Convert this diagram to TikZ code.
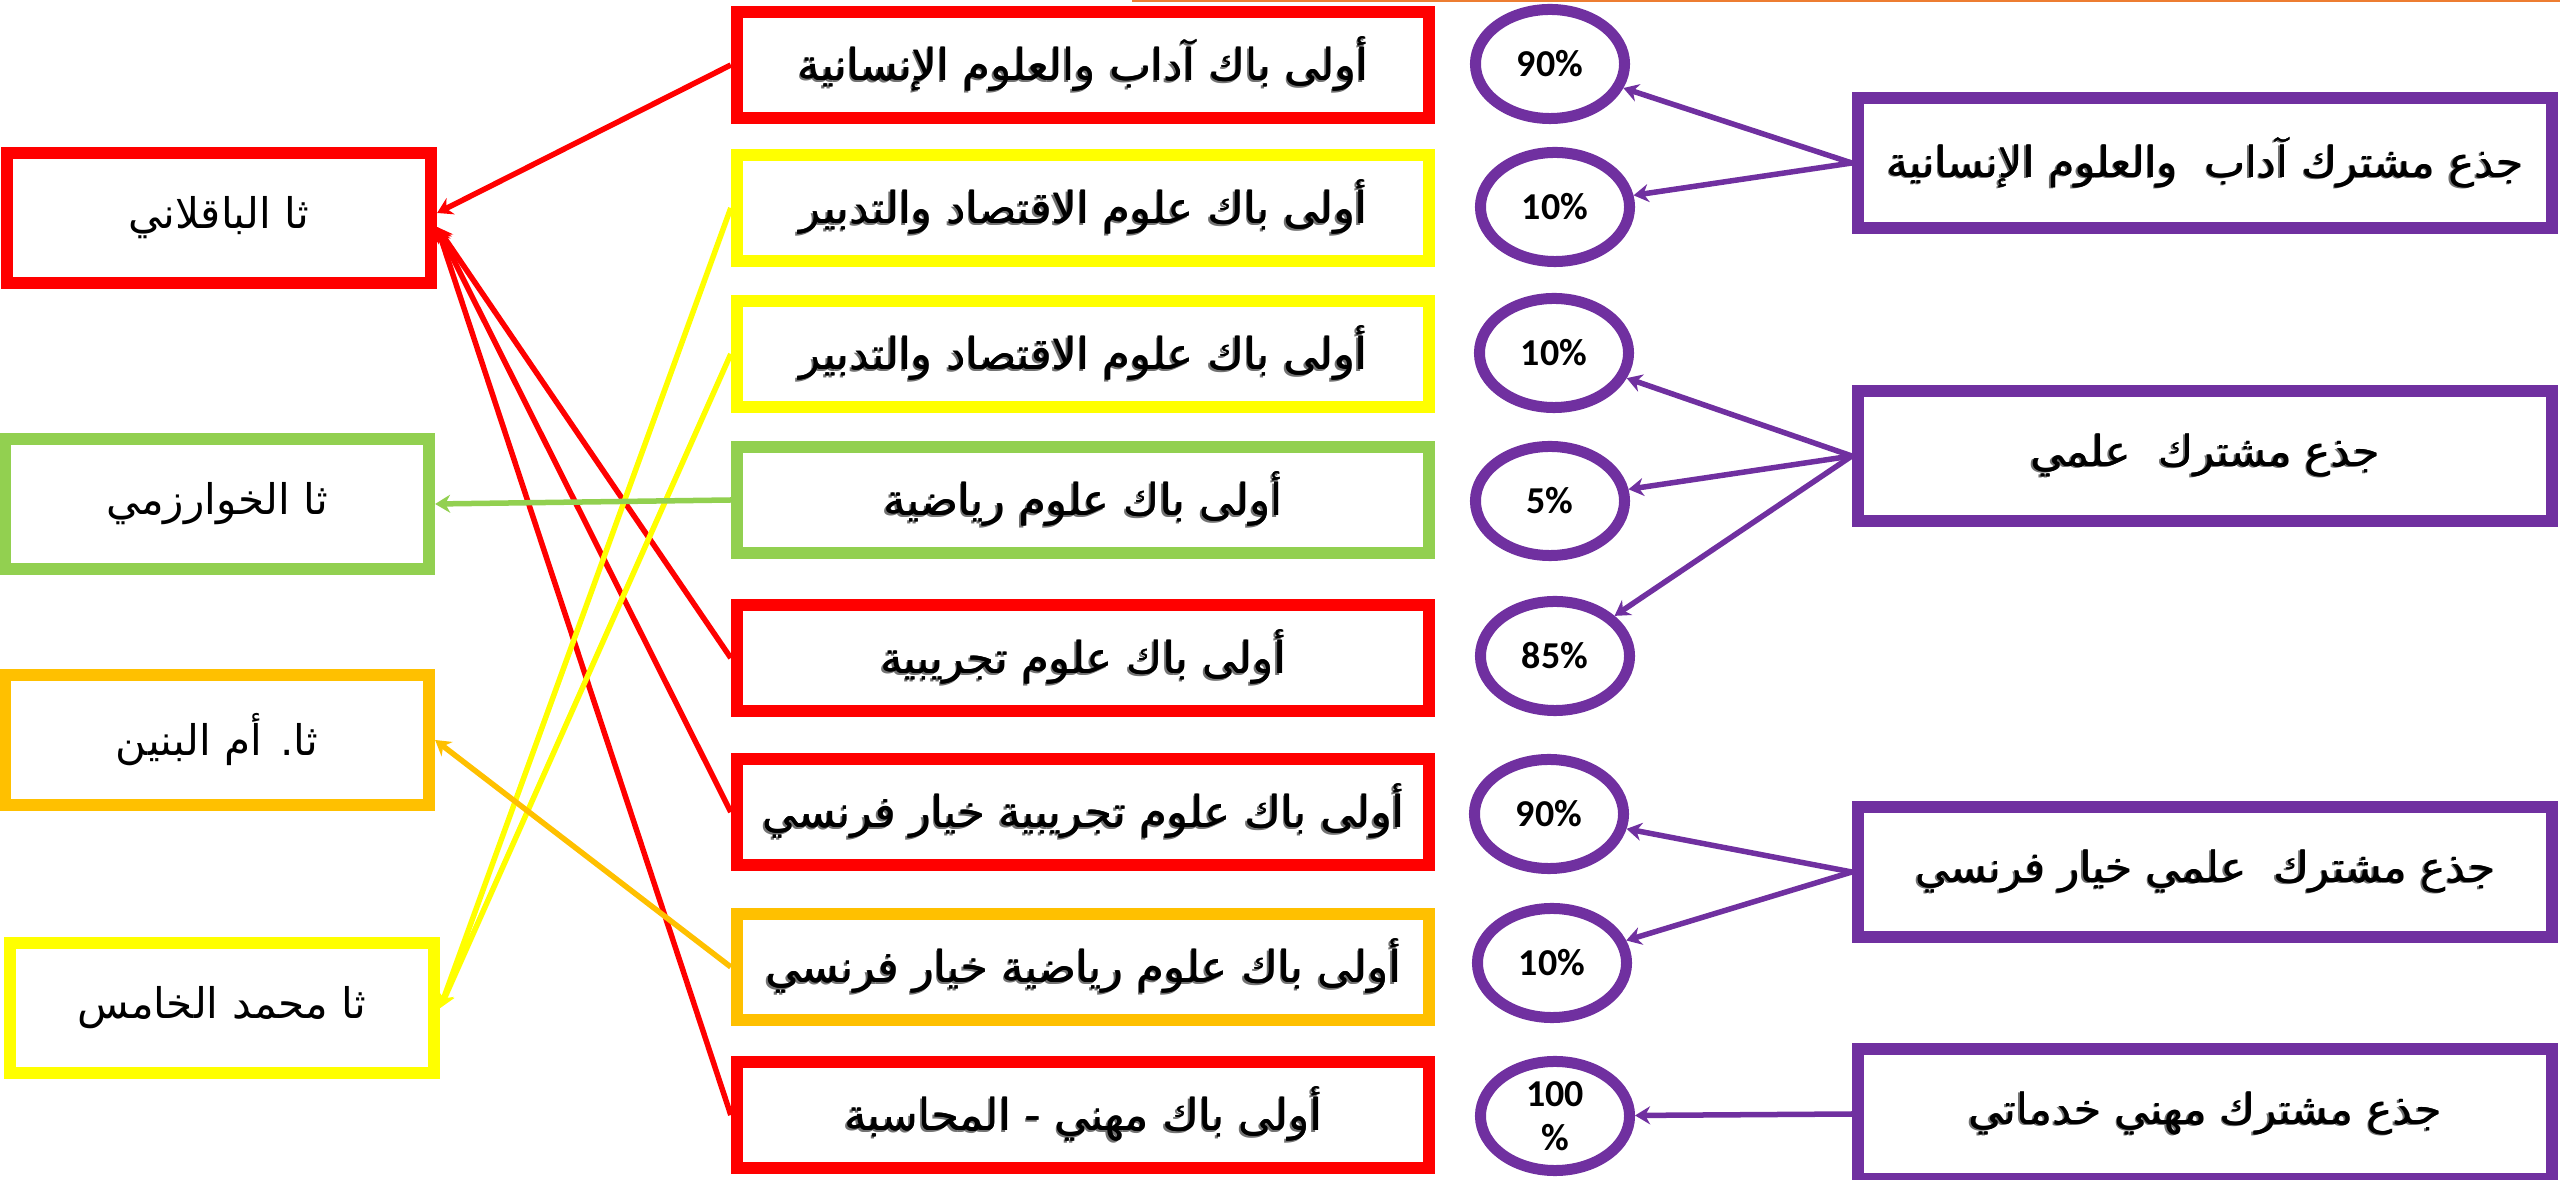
\documentclass[tikz,border=0pt]{standalone}
\usepackage{fontspec}
\TeXXeTstate=1
\newfontfamily\arabicfont[Script=Arabic]{DejaVu Sans}
\newfontfamily\pctfont{Carlito}
\usetikzlibrary{arrows.meta,calc,shapes.geometric}
\definecolor{cRed}{HTML}{FF0000}
\definecolor{cYel}{HTML}{FFFF00}
\definecolor{cGrn}{HTML}{92D050}
\definecolor{cOra}{HTML}{FFC000}
\definecolor{cPur}{HTML}{7030A0}
\definecolor{cTop}{HTML}{ED7D31}
\newcommand{\shtxt}[1]{\leavevmode\rlap{\kern-0.45pt\raisebox{-0.45pt}{\color{black!55}\beginR #1\endR}}\rlap{\kern0.2pt\beginR #1\endR}\beginR #1\endR}
\begin{document}
\begin{tikzpicture}[x=0.01cm,y=-0.01cm,
  leftbox/.style={draw, line width=1.2mm, minimum width=4.24cm, minimum height=1.29cm, inner sep=0pt,
    font=\arabicfont\fontsize{12}{14}\selectfont},
  midbox/.style={draw, line width=1.2mm, minimum width=6.92cm, minimum height=1.05cm, inner sep=0pt,
    font=\arabicfont\fontsize{12.5}{14}\selectfont},
  rightbox/.style={draw=cPur, line width=1.2mm, minimum width=6.94cm, minimum height=1.29cm, inner sep=0pt,
    font=\arabicfont\fontsize{12.2}{14}\selectfont},
  pct/.style={draw=cPur, ellipse, line width=1.1mm, minimum width=1.49cm, minimum height=1.09cm, inner sep=0pt,
    font=\pctfont\bfseries\fontsize{10.8}{12.5}\selectfont, align=center},
  conn/.style={line width=0.55mm, -{Stealth[length=1.5mm, width=1.8mm]}},
]
\useasboundingbox (0,0) rectangle (2560,1180);
\draw[cTop, line width=0.22mm] (1132,1) -- (2560,1);

% left column
\node[leftbox, draw=cRed] (L1) at (219,218) {\beginR ثا الباقلاني\endR};
\node[leftbox, draw=cGrn] (L2) at (217,504) {\beginR ثا الخوارزمي\endR};
\node[leftbox, draw=cOra] (L3) at (217,740) {\beginR ثا. أم البنين\endR};
\node[leftbox, draw=cYel] (L4) at (222,1008) {\beginR ثا محمد الخامس\endR};

% middle column
\node[midbox, draw=cRed] (M1) at (1083,65) {\shtxt{أولى باك آداب والعلوم الإنسانية}};
\node[midbox, draw=cYel] (M2) at (1083,208) {\shtxt{أولى باك علوم الاقتصاد والتدبير}};
\node[midbox, draw=cYel] (M3) at (1083,354) {\shtxt{أولى باك علوم الاقتصاد والتدبير}};
\node[midbox, draw=cGrn] (M4) at (1083,500) {\shtxt{أولى باك علوم رياضية}};
\node[midbox, draw=cRed] (M5) at (1083,658) {\shtxt{أولى باك علوم تجريبية}};
\node[midbox, draw=cRed] (M6) at (1083,812) {\shtxt{أولى باك علوم تجريبية خيار فرنسي}};
\node[midbox, draw=cOra] (M7) at (1083,967) {\shtxt{أولى باك علوم رياضية خيار فرنسي}};
\node[midbox, draw=cRed] (M8) at (1083,1115) {\shtxt{أولى باك مهني - المحاسبة}};

% percentages
\node[pct] (E1) at (1550,64) {90\%};
\node[pct] (E2) at (1555,207) {10\%};
\node[pct] (E3) at (1554,353) {10\%};
\node[pct] (E4) at (1550,501) {5\%};
\node[pct] (E5) at (1555,656) {85\%};
\node[pct] (E6) at (1549,814) {90\%};
\node[pct] (E7) at (1552,963) {10\%};
\node[pct] (E8) at (1555,1116) {100\\\%};

% right column
\node[rightbox] (R1) at (2205,163) {\shtxt{جذع مشترك آداب\ \ والعلوم الإنسانية}};
\node[rightbox] (R2) at (2205,456) {\shtxt{جذع مشترك\ \ علمي}};
\node[rightbox] (R3) at (2205,872) {\shtxt{جذع مشترك\ \ علمي خيار فرنسي}};
\node[rightbox] (R4) at (2205,1114) {\shtxt{جذع مشترك مهني خدماتي}};

% connectors: middle -> left
\draw[conn, cRed] (M1.west) -- ($(L1.east)+(0,-5)$);
\draw[conn, cRed] (M5.west) -- ($(L1.east)+(0,9)$);
\draw[conn, cRed] (M6.west) -- ($(L1.east)+(0,9)$);
\draw[conn, cRed] (M8.west) -- ($(L1.east)+(0,9)$);
\draw[conn, cYel] (M2.west) -- (L4.east);
\draw[conn, cYel] (M3.west) -- (L4.east);
\draw[conn, cGrn] (M4.west) -- (L2.east);
\draw[conn, cOra] (M7.west) -- (L3.east);

% connectors: right -> percentages
\draw[conn, cPur] (R1.west) -- (E1);
\draw[conn, cPur] (R1.west) -- (E2);
\draw[conn, cPur] (R2.west) -- (E3);
\draw[conn, cPur] (R2.west) -- (E4);
\draw[conn, cPur] (R2.west) -- (E5);
\draw[conn, cPur] (R3.west) -- (E6);
\draw[conn, cPur] (R3.west) -- (E7);
\draw[conn, cPur] (R4.west) -- (E8);
\end{tikzpicture}
\end{document}
